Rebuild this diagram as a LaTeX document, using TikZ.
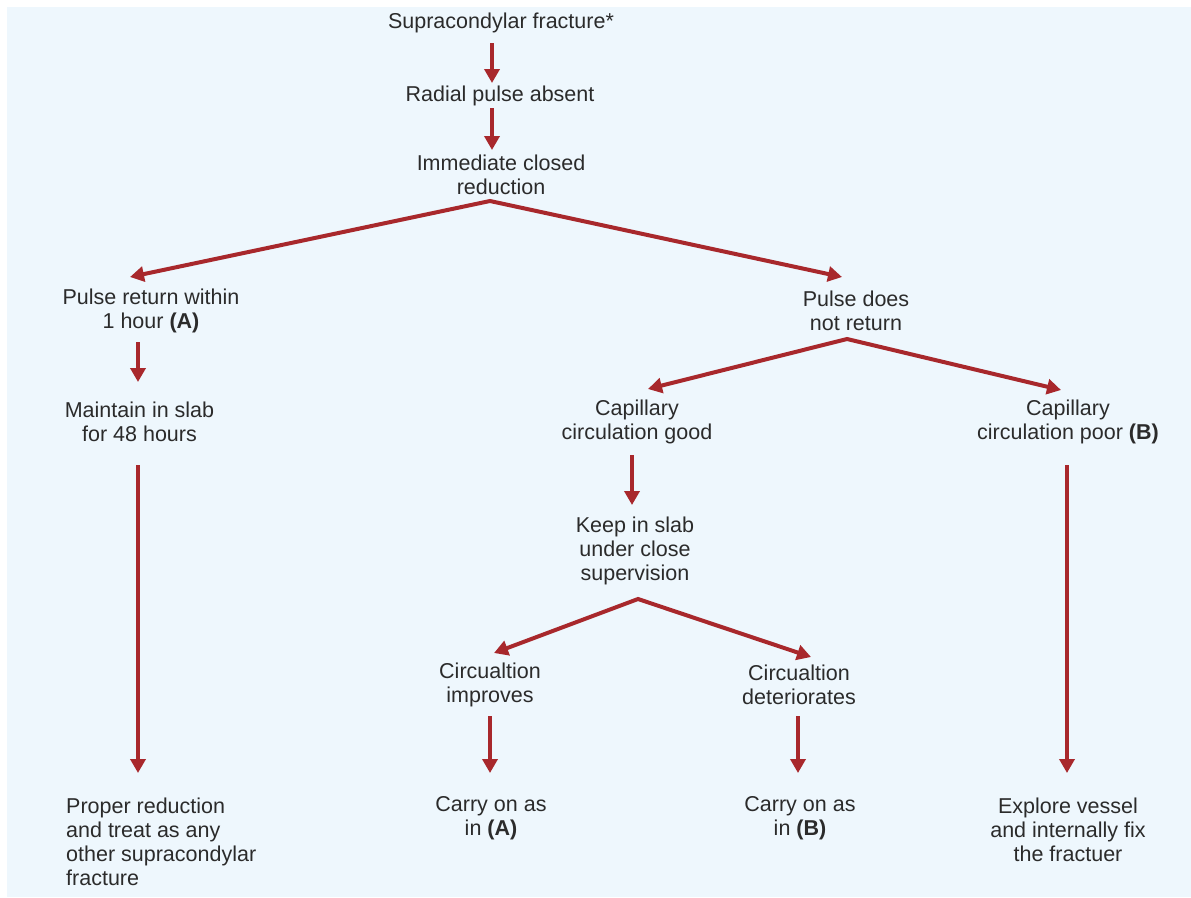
\documentclass[tikz,border=0pt]{standalone}
\usepackage{fontspec}
\setmainfont{Liberation Sans}
\usetikzlibrary{arrows.meta,calc}
\definecolor{bgblue}{HTML}{EEF7FD}
\definecolor{arrowred}{HTML}{A8282C}
\definecolor{txt}{HTML}{2B2B2B}
\tikzset{
  lbl/.style={inner sep=0pt, align=center, text=txt, font=\fontsize{21.5pt}{24pt}\selectfont},
  lblleft/.style={inner sep=0pt, align=left, text=txt, font=\fontsize{21.5pt}{24pt}\selectfont},
  arr/.style={draw=arrowred, line width=4pt, -{Triangle[length=14pt,width=15pt]}},
  arrboth/.style={draw=arrowred, line width=4pt, line join=miter, {Triangle[length=14pt,width=15pt]}-{Triangle[length=14pt,width=15pt]}}
}
\begin{document}
\begin{tikzpicture}[x=1pt,y=-1pt]
\useasboundingbox (0,0) rectangle (1191,897);
\fill[bgblue] (7,7) rectangle (1191,897);

\node[lbl] (n1) at (501,23) {Supracondylar fracture*};
\node[lbl] (n2) at (500,96) {Radial pulse absent};
\node[lbl] (n3) at (501,175) {Immediate closed\\reduction};
\node[lbl] (n4) at (151,311) {Pulse return within\\1 hour \textbf{(A)}};
\node[lbl] (n5) at (856,311) {Pulse does\\not return};
\node[lbl] (n6) at (139.5,422) {Maintain in slab\\for 48 hours};
\node[lblleft, anchor=west] (n7) at (66,842) {Proper reduction\\and treat as any\\other supracondylar\\fracture};
\node[lbl] (n8) at (637,422) {Capillary\\circulation good};
\node[lbl] (n9) at (1068,422) {Capillary\\circulation poor \textbf{(B)}};
\node[lbl] (n10) at (635,551) {Keep in slab\\under close\\supervision};
\node[lbl] (n11) at (490,685) {Circualtion\\improves};
\node[lbl] (n12) at (799,685) {Circualtion\\deteriorates};
\node[lbl] (n13) at (491,818) {Carry on as\\in \textbf{(A)}};
\node[lbl] (n14) at (800,818) {Carry on as\\in \textbf{(B)}};
\node[lbl] (n15) at (1068,830) {Explore vessel\\and internally fix\\the fractuer};

\coordinate (j1) at ($(n3)+(-11,26)$);
\coordinate (j2) at ($(n5)+(-9,28)$);
\coordinate (j3) at ($(n10)+(3,48)$);

\draw[arr] ($(n1)+(-9,20)$) -- ($(n2)+(-8,-13)$);
\draw[arr] ($(n2)+(-8,12)$) -- ($(n3)+(-9,-25)$);
\draw[arrboth] ($(n4)+(-21,-34)$) -- (j1) -- ($(n5)+(-14,-34)$);
\draw[arr] ($(n4)+(-13,31)$) -- ($(n6)+(-1.5,-40)$);
\draw[arr] ($(n6)+(-1.5,43)$) -- ($(n7.west)+(72,-69)$);
\draw[arrboth] ($(n8)+(11,-33)$) -- (j2) -- ($(n9)+(-7,-32)$);
\draw[arr] ($(n8)+(-5,33)$) -- ($(n10)+(-3,-46)$);
\draw[arr] ($(n9)+(-1,43)$) -- ($(n15)+(-1,-57)$);
\draw[arrboth] ($(n11)+(4,-32)$) -- (j3) -- ($(n12)+(12,-28)$);
\draw[arr] ($(n11)+(0,31)$) -- ($(n13)+(-1,-45)$);
\draw[arr] ($(n12)+(-1,31)$) -- ($(n14)+(-2,-45)$);
\end{tikzpicture}
\end{document}
